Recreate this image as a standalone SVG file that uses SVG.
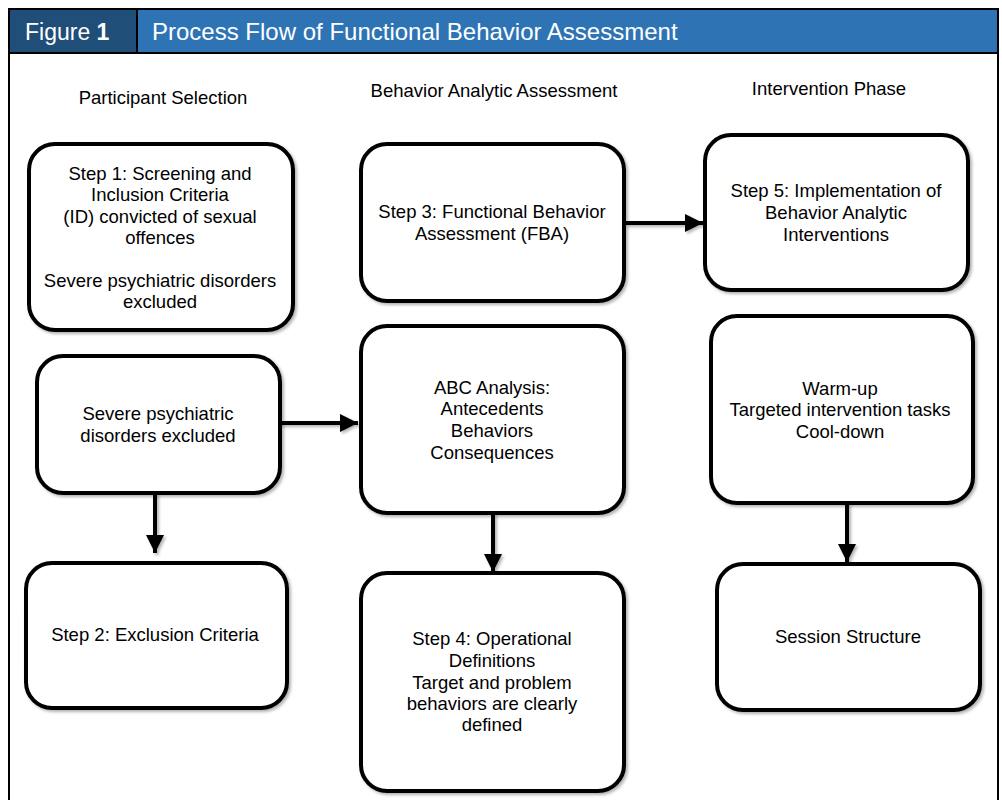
<svg xmlns="http://www.w3.org/2000/svg" width="1002" height="800" viewBox="0 0 1002 800">
<defs>
<style>
text{font-family:"Liberation Sans",Arial,sans-serif;fill:#000;}
.t{font-size:18.5px;text-anchor:middle;}
.h{font-size:18.5px;text-anchor:middle;}
.box{fill:#fff;stroke:#000;stroke-width:4;filter:url(#sh);}
.con{stroke:#000;stroke-width:4;fill:none;filter:url(#sh);}
.hd{font-size:24px;fill:#fff;}
</style>
<filter id="sh" filterUnits="userSpaceOnUse" x="0" y="0" width="1002" height="800">
<feDropShadow dx="2" dy="2" stdDeviation="1.5" flood-color="#000" flood-opacity="0.3"/>
</filter>
<marker id="ah" viewBox="0 0 10 10" refX="10" refY="5" markerWidth="4.5" markerHeight="4.5" markerUnits="strokeWidth" orient="auto">
<path d="M0,0 L10,5 L0,10 z" fill="#000"/>
</marker>
</defs>
<rect x="0" y="0" width="1002" height="800" fill="#fff"/>
<g id="frame">
<rect x="9" y="9" width="989" height="800" fill="none" stroke="#000" stroke-width="2"/>
<rect x="10" y="10" width="127" height="42" fill="#1f4e79"/>
<rect x="138" y="10" width="859" height="42" fill="#2e74b5"/>
<line x1="137" y1="10" x2="137" y2="52" stroke="#000" stroke-width="2"/>
<line x1="9" y1="53" x2="998" y2="53" stroke="#000" stroke-width="2"/>
<text class="hd" x="25" y="40" font-size="23" style="font-size:23px">Figure <tspan font-weight="bold">1</tspan></text>
<text class="hd" x="152" y="40">Process Flow of Functional Behavior Assessment</text>
</g>
<g id="headings">
<text class="h" x="163" y="104">Participant Selection</text>
<text class="h" x="494" y="97">Behavior Analytic Assessment</text>
<text class="h" x="829" y="95">Intervention Phase</text>
</g>
<g id="connectors">
<line class="con" x1="280" y1="423" x2="358" y2="423" marker-end="url(#ah)"/>
<line class="con" x1="155" y1="493" x2="155" y2="553" marker-end="url(#ah)"/>
<line class="con" x1="493" y1="513" x2="493" y2="572" marker-end="url(#ah)"/>
<line class="con" x1="625" y1="223" x2="703" y2="223" marker-end="url(#ah)"/>
<line class="con" x1="847" y1="503" x2="847" y2="562" marker-end="url(#ah)"/>
</g>
<g id="step1">
<rect class="box" x="29" y="144" width="264" height="186" rx="26"/>
<text class="t" x="160" y="180">Step 1: Screening and</text>
<text class="t" x="160" y="201">Inclusion Criteria</text>
<text class="t" x="160" y="223">(ID) convicted of sexual</text>
<text class="t" x="160" y="244">offences</text>
<text class="t" x="160" y="287">Severe psychiatric disorders</text>
<text class="t" x="160" y="308">excluded</text>
</g>
<g id="excluded">
<rect class="box" x="37" y="356" width="243" height="137" rx="26"/>
<text class="t" x="158" y="420">Severe psychiatric</text>
<text class="t" x="158" y="442">disorders excluded</text>
</g>
<g id="step2">
<rect class="box" x="26" y="563" width="261" height="145" rx="26"/>
<text class="t" x="155" y="641">Step 2: Exclusion Criteria</text>
</g>
<g id="step3">
<rect class="box" x="361" y="144" width="263" height="157" rx="26"/>
<text class="t" x="492" y="218">Step 3: Functional Behavior</text>
<text class="t" x="492" y="240">Assessment (FBA)</text>
</g>
<g id="abc">
<rect class="box" x="361" y="326" width="263" height="187" rx="26"/>
<text class="t" x="492" y="394">ABC Analysis:</text>
<text class="t" x="492" y="415">Antecedents</text>
<text class="t" x="492" y="437">Behaviors</text>
<text class="t" x="492" y="459">Consequences</text>
</g>
<g id="step4">
<rect class="box" x="361" y="573" width="263" height="218" rx="26"/>
<text class="t" x="492" y="645">Step 4: Operational</text>
<text class="t" x="492" y="667">Definitions</text>
<text class="t" x="492" y="689">Target and problem</text>
<text class="t" x="492" y="710">behaviors are clearly</text>
<text class="t" x="492" y="731">defined</text>
</g>
<g id="step5">
<rect class="box" x="705" y="135" width="263" height="155" rx="26"/>
<text class="t" x="836" y="197">Step 5: Implementation of</text>
<text class="t" x="836" y="219">Behavior Analytic</text>
<text class="t" x="836" y="241">Interventions</text>
</g>
<g id="session-tasks">
<rect class="box" x="711" y="316" width="262" height="187" rx="26"/>
<text class="t" x="840" y="395">Warm-up</text>
<text class="t" x="840" y="416">Targeted intervention tasks</text>
<text class="t" x="840" y="438">Cool-down</text>
</g>
<g id="session-structure">
<rect class="box" x="717" y="564" width="263" height="146" rx="26"/>
<text class="t" x="848" y="643">Session Structure</text>
</g>
</svg>
